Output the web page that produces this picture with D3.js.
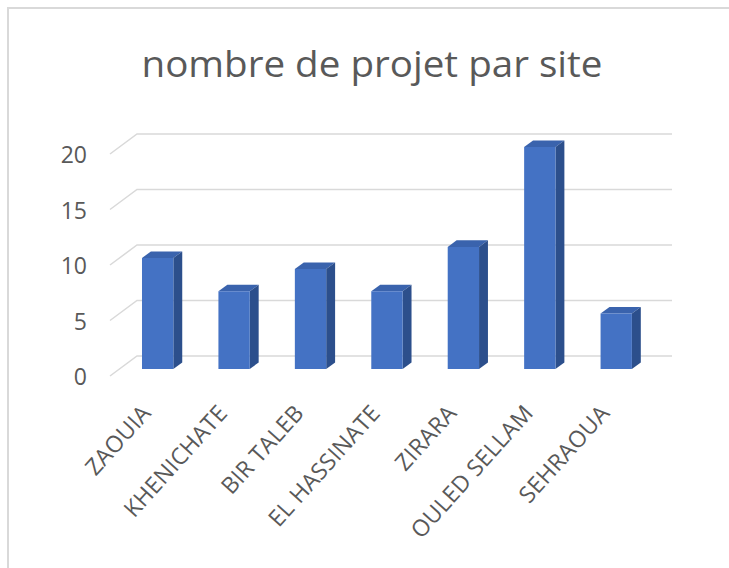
<!DOCTYPE html>
<html>
<head>
  <meta charset="utf-8">
  <title>nombre de projet par site</title>
  <style>
    body { margin: 0; background: #fff; }
    text { font-family: "Open Sans", "Noto Sans", sans-serif; fill: #595959; }
  </style>
</head>
<body>
  <svg></svg>
  <script src="https://d3js.org/d3.v7.min.js"></script>
  <script>
    const sites = ["ZAOUIA", "KHENICHATE", "BIR TALEB", "EL HASSINATE", "ZIRARA", "OULED SELLAM", "SEHRAOUA"];
    const projets = [10, 7, 9, 7, 11, 20, 5];
    const yTicks = [0, 5, 10, 15, 20];

    const width = 729;
    const height = 568;

    // oblique 3D: floor front edge and how far the back wall is shifted
    const floorY = 376;
    const depthX = 27;
    const depthY = -20;
    const zFront = 0.35;
    const zBack = 0.68;

    const x = d3.scaleBand()
      .domain(sites)
      .range([110, 645])
      .paddingInner(0.59)
      .paddingOuter(0.295);
    const y = d3.scaleLinear([0, 20], [0, 222]);

    // point at category position px, value v and depth z
    const pt = (px, v, z) => [px + depthX * z, floorY + depthY * z - y(v)];

    const svg = d3.select("svg")
      .attr("width", width)
      .attr("height", height)
      .attr("viewBox", [0, 0, width, height]);

    svg.append("rect")
      .attr("x", 8).attr("y", 8)
      .attr("width", 760).attr("height", 620)
      .attr("fill", "#fff")
      .attr("stroke", "#d9d9d9")
      .attr("stroke-width", 2);

    svg.append("text")
      .attr("x", 372)
      .attr("y", 77)
      .attr("text-anchor", "middle")
      .attr("font-size", 36)
      .attr("textLength", 461)
      .attr("lengthAdjust", "spacingAndGlyphs")
      .text("nombre de projet par site");

    // side wall diagonals + back wall gridlines
    const x0 = x.range()[0], x1 = x.range()[1];
    svg.append("g")
      .selectAll("path")
      .data(yTicks)
      .join("path")
      .attr("fill", "none")
      .attr("stroke", "#d9d9d9")
      .attr("stroke-width", 1.5)
      .attr("d", v => d3.line()([pt(x0, v, 0), pt(x0, v, 1), pt(x1, v, 1)]));

    svg.append("g")
      .selectAll("text")
      .data(yTicks)
      .join("text")
      .attr("x", 87)
      .attr("y", v => pt(x0, v, 0)[1] + 1)
      .attr("dy", "0.35em")
      .attr("text-anchor", "end")
      .attr("font-size", 23)
      .text(d => d);

    const bars = svg.append("g")
      .selectAll("g")
      .data(sites.map((s, i) => ({ site: s, value: projets[i] })))
      .join("g");

    const face = pts => d3.line()(pts) + "Z";
    const left = d => x(d.site), right = d => x(d.site) + x.bandwidth();

    // top
    bars.append("path")
      .attr("fill", "#3a63ad")
      .attr("d", d => face([pt(left(d), d.value, zFront), pt(right(d), d.value, zFront),
        pt(right(d), d.value, zBack), pt(left(d), d.value, zBack)]));
    // side
    bars.append("path")
      .attr("fill", "#2c4f8c")
      .attr("d", d => face([pt(right(d), 0, zFront), pt(right(d), d.value, zFront),
        pt(right(d), d.value, zBack), pt(right(d), 0, zBack)]));
    // front
    bars.append("path")
      .attr("fill", "#4472c4")
      .attr("d", d => face([pt(left(d), 0, zFront), pt(right(d), 0, zFront),
        pt(right(d), d.value, zFront), pt(left(d), d.value, zFront)]));

    svg.append("g")
      .selectAll("text")
      .data(sites)
      .join("text")
      .attr("text-anchor", "end")
      .attr("font-size", 23)
      .attr("letter-spacing", 0.2)
      .attr("transform", s => {
        const cx = x(s) + x.bandwidth() / 2;
        return `translate(${cx + 4},${floorY + 38}) rotate(-48)`;
      })
      .text(d => d);
  </script>
</body>
</html>
